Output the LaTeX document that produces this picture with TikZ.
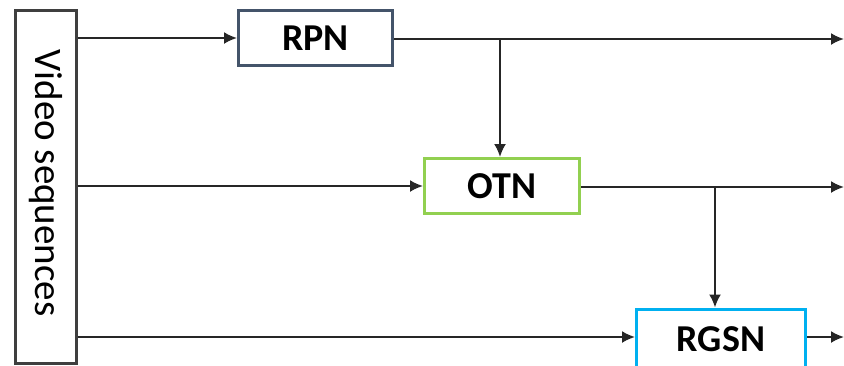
\documentclass[tikz,border=0pt]{standalone}
\usepackage{fontspec}
\setmainfont{Carlito}
\usetikzlibrary{arrows.meta}
\definecolor{rpnc}{HTML}{44546A}
\definecolor{otnc}{HTML}{92D050}
\definecolor{rgsnc}{HTML}{00B0F0}
\definecolor{vidc}{HTML}{3F3F3F}
\begin{document}
\begin{tikzpicture}[x=1pt,y=-1pt,
  blk/.style={draw, line width=3pt, fill=white, inner sep=0pt, font=\fontsize{38}{40}\selectfont\bfseries},
  conn/.style={line width=2pt, draw=black!85, -{Latex[length=13pt,width=12pt]}},
  plain/.style={line width=2pt, draw=black!85}]
\useasboundingbox (0,0) rectangle (844,365);
\node[draw=vidc, line width=3pt, minimum width=61pt, minimum height=353pt, inner sep=0pt] (vid) at (45.5,186.5) {};
\node[rotate=-90, font=\fontsize{39}{41}\selectfont] (vidt) at (45.5,183) {Video sequences};
\node[blk, draw=rpnc, minimum width=154pt, minimum height=55pt] (rpn) at (315.5,38) {RPN};
\node[blk, draw=otnc, minimum width=155pt, minimum height=55pt] (otn) at (502,186) {OTN};
\node[blk, draw=rgsnc, minimum width=169pt, minimum height=60pt] (rgsn) at (721,339) {\raisebox{-6pt}{RGSN}};
\coordinate (o1) at (844,39);
\coordinate (o2) at (844,187);
\coordinate (o3) at (844,337);
\coordinate (j1) at (500,39);
\coordinate (j2) at (715,187);
\draw[conn] (vid.east |- rpn.west) -- (rpn.west);
\draw[conn] (vid.east |- otn.west) -- (otn.west);
\draw[conn] (vid.east |- o3) -- (rgsn.west |- o3);
\draw[conn] (rpn.east |- o1) -- (o1);
\draw[conn] (otn.east |- o2) -- (o2);
\draw[conn] (rgsn.east |- o3) -- (o3);
\draw[conn] (j1) -- (j1 |- otn.north);
\draw[conn] (j2) -- (j2 |- rgsn.north);
\end{tikzpicture}
\end{document}
